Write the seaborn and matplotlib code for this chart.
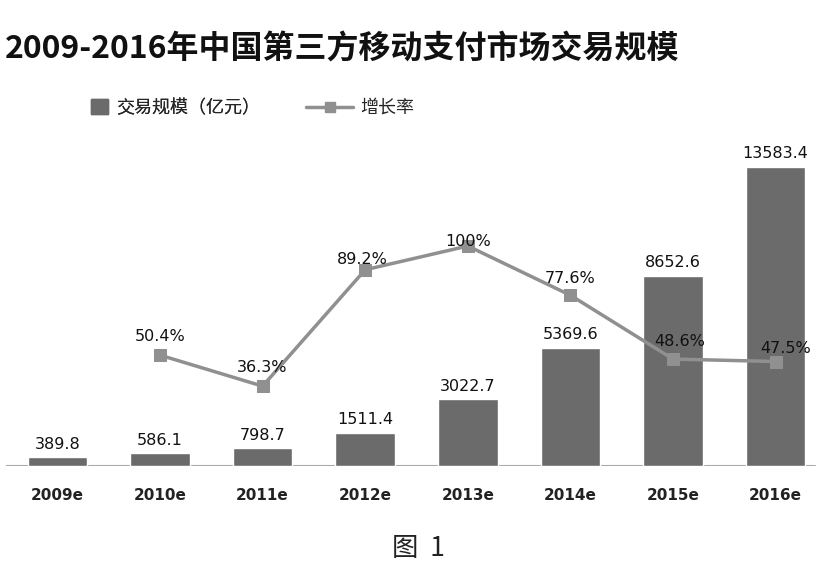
import matplotlib
matplotlib.use("Agg")
import matplotlib.pyplot as plt
import seaborn as sns
import pandas as pd
from matplotlib.patches import Patch
from matplotlib.lines import Line2D

years = ["2009e", "2010e", "2011e", "2012e", "2013e", "2014e", "2015e", "2016e"]
volume = [389.8, 586.1, 798.7, 1511.4, 3022.7, 5369.6, 8652.6, 13583.4]
rate_years = ["2010e", "2011e", "2012e", "2013e", "2014e", "2015e", "2016e"]
rate = [50.4, 36.3, 89.2, 100.0, 77.6, 48.6, 47.5]
rate_labels = ["50.4%", "36.3%", "89.2%", "100%", "77.6%", "48.6%", "47.5%"]

title = "2009-2016年中国第三方移动支付市场交易规模"
legend_bar = "交易规模（亿元）"
legend_line = "增长率"
caption = "图  1"

sns.set_theme(style="white")
plt.rcParams["font.family"] = ["Noto Sans CJK SC", "DejaVu Sans"]

BAR = "#6b6b6b"
LINE = "#909090"

fig = plt.figure(figsize=(8.34, 5.70), dpi=100)
ax = fig.add_axes([6 / 834, (570 - 466) / 570, 821 / 834, 306 / 570])

df = pd.DataFrame({"year": years, "volume": volume})
sns.barplot(data=df, x="year", y="volume", order=years, color=BAR,
            saturation=1, width=0.58, ax=ax)
ax.set_xlim(-0.5, 7.5)
ax.set_ylim(0, 13900)
ax.set_xlabel("")
ax.set_ylabel("")
ax.set_yticks([])
for s in ["top", "right", "left", "bottom"]:
    ax.spines[s].set_visible(False)
ax.axhline(0, xmin=0, xmax=(815 - 6) / 821, color="#aaaaaa", lw=1.5, zorder=0)
ax.tick_params(axis="x", length=0, pad=16)
for lab in ax.get_xticklabels():
    lab.set_fontfamily(["DejaVu Sans"])
    lab.set_fontweight("bold")
    lab.set_fontsize(11)
    lab.set_color("#222222")

for i, v in enumerate(volume):
    ax.annotate(f"{v:.1f}", (i, v), xytext=(0, 4), textcoords="offset points",
                ha="center", va="bottom", fontsize=11.5, family=["DejaVu Sans"],
                color="#111111")

ax2 = ax.twinx()
ax2.set_ylim(0, 100 * 306 / 220)
ax2.set_yticks([])
for s in ["top", "right", "left", "bottom"]:
    ax2.spines[s].set_visible(False)
xpos = [years.index(y) for y in rate_years]
sns.lineplot(x=xpos, y=rate, ax=ax2, color=LINE, lw=2.5, marker="s",
             markersize=8, markeredgecolor=LINE, markerfacecolor=LINE)
ax2.set_xlim(-0.5, 7.5)

label_offsets = [(0, 8), (0, 8), (-2, 2), (0, -2), (0, 7), (5, 7), (7, 4)]
for x, r, t, off in zip(xpos, rate, rate_labels, label_offsets):
    ax2.annotate(t, (x, r), xytext=off, textcoords="offset points",
                 ha="center", va="bottom", fontsize=11.5, family=["DejaVu Sans"],
                 color="#111111")

fig.text(5 / 834, 1 - 50 / 570, title, fontsize=23, fontweight="bold",
         ha="left", va="center", color="#111111")
fig.text(418 / 834, 1 - 548 / 570, caption, fontsize=19, ha="center",
         va="center", color="#222222")

leg1 = fig.legend([Patch(facecolor=BAR, edgecolor=BAR)], [legend_bar],
                  loc="center left", bbox_to_anchor=(75 / 834, 1 - 108 / 570),
                  frameon=False, fontsize=13, handlelength=0.9,
                  handleheight=0.9, handletextpad=0.5)
fig.add_artist(leg1)
fig.legend([Line2D([0], [0], color=LINE, lw=2.5, marker="s", markersize=7)],
           [legend_line], loc="center left",
           bbox_to_anchor=(290 / 834, 1 - 108 / 570), frameon=False,
           fontsize=13, handlelength=2.6, handletextpad=0.4)

fig.savefig("out.png", dpi=100)
